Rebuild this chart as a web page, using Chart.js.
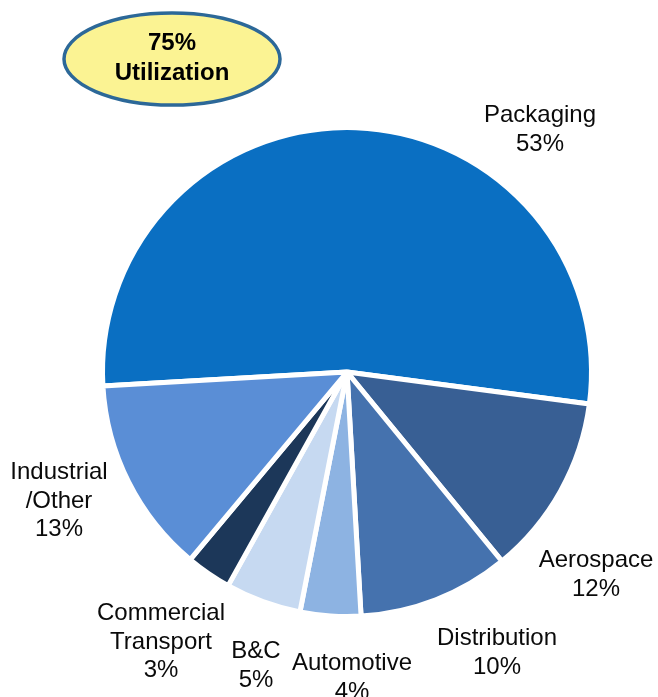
<!DOCTYPE html>
<html>
<head>
<meta charset="utf-8">
<script src="https://cdn.jsdelivr.net/npm/chart.js@4/dist/chart.umd.min.js"></script>
<style>
  html, body { margin: 0; padding: 0; background: #fff; }
  canvas { display: block; }
</style>
</head>
<body>
<canvas id="marketPie" width="658" height="697"></canvas>
<script>
// market share by segment, clockwise from Packaging
var segments = ['Packaging', 'Aerospace', 'Distribution', 'Automotive', 'B&C', 'Commercial Transport', 'Industrial/Other'];
var shares = [53, 12, 10, 4, 5, 3, 13];
var utilization = 75;

var sliceColors = ['#0A6FC2', '#385F94', '#4572AE', '#8DB3E2', '#C6D9F1', '#1C3759', '#5A8ED6'];

// how each label is broken up and where it sits (centre x, first baseline)
var labelLines = [['Packaging'], ['Aerospace'], ['Distribution'], ['Automotive'], ['B&C'], ['Commercial', 'Transport'], ['Industrial', '/Other']];
var labelSpots = [[540, 122], [596, 567], [497, 645], [352, 670], [256, 658], [161, 620], [59, 479]];

var outsideLabels = {
    id: 'outsideLabels',
    afterDraw: function(chart) {
        var ctx = chart.ctx;
        ctx.save();
        ctx.font = '24px "Liberation Sans", Arial, sans-serif';
        ctx.fillStyle = '#0a0a0a';
        ctx.textAlign = 'center';
        ctx.textBaseline = 'alphabetic';
        chart.data.labels.forEach(function(name, i) {
            var lines = labelLines[i].concat([chart.data.datasets[0].data[i] + '%']);
            var x = labelSpots[i][0], y = labelSpots[i][1];
            lines.forEach(function(t, k) {
                ctx.fillText(t, x, y + k * 28.5);
            });
        });
        ctx.restore();
    }
};

// yellow callout with the utilization figure
var utilBadge = {
    id: 'utilBadge',
    afterDraw: function(chart) {
        var ctx = chart.ctx;
        ctx.save();
        ctx.beginPath();
        ctx.ellipse(172, 59, 108, 46, 0, 0, Math.PI * 2);
        ctx.fillStyle = '#FBF393';
        ctx.fill();
        ctx.lineWidth = 3.5;
        ctx.strokeStyle = '#2C6898';
        ctx.stroke();
        ctx.fillStyle = '#000';
        ctx.font = 'bold 24px "Liberation Sans", Arial, sans-serif';
        ctx.textAlign = 'center';
        ctx.fillText(utilization + '%', 172, 50);
        ctx.fillText('Utilization', 172, 80);
        ctx.restore();
    }
};

var ctx = document.getElementById('marketPie').getContext('2d');
var pie = new Chart(ctx, {
    type: 'pie',
    data: {
        labels: segments,
        datasets: [{
            data: shares,
            backgroundColor: sliceColors,
            borderColor: '#ffffff',
            borderWidth: 5,
            hoverOffset: 0
        }]
    },
    options: {
        responsive: false,
        animation: false,
        rotation: 266.7,
        layout: {
            padding: { left: 100, right: 64, top: 125, bottom: 78 }
        },
        plugins: {
            legend: { display: false },
            tooltip: { enabled: false }
        }
    },
    plugins: [outsideLabels, utilBadge]
});
</script>
</body>
</html>
